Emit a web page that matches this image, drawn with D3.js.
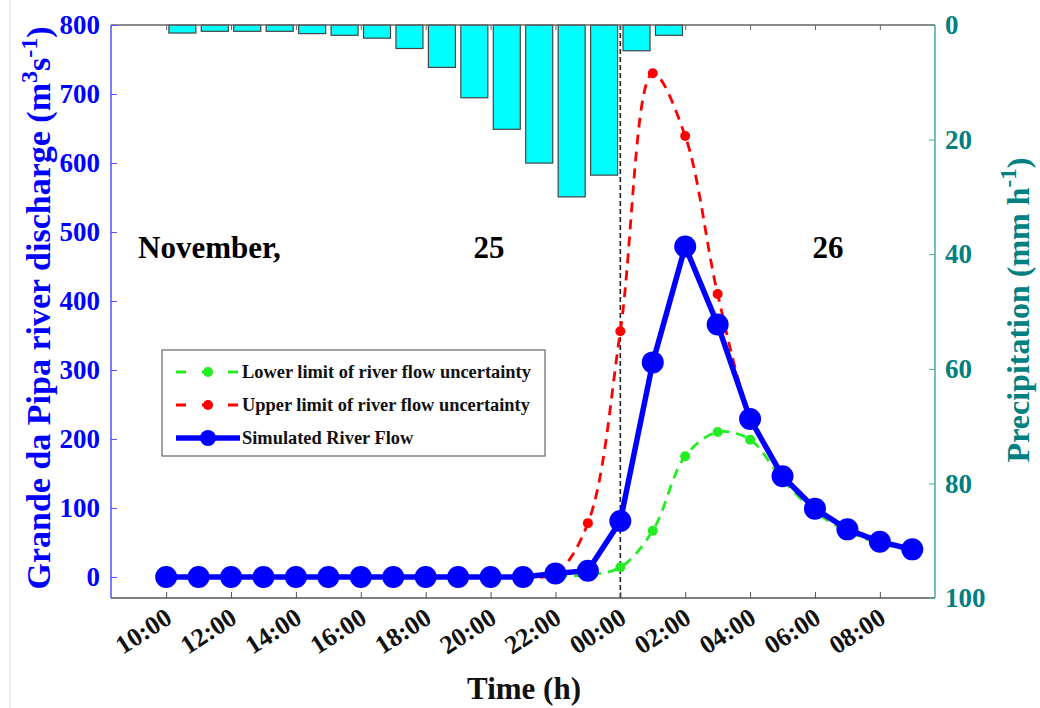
<!DOCTYPE html>
<html><head>
<meta charset="utf-8">
<script src="https://d3js.org/d3.v7.min.js"></script>
<style>
  body { margin: 0; background: #fff; }
  text { font-family: "Liberation Serif", "Times New Roman", serif; font-weight: bold; }
</style>
</head>
<body>
<svg id="chart" width="1040" height="708"></svg>
<script>

// hours since 10:00 on November 25 (0 = 10:00 ... 23 = 09:00 next day)
const hours = d3.range(0, 24);
const tickHours = [0, 2, 4, 6, 8, 10, 12, 14, 16, 18, 20, 22];
const tickLabels = ["10:00", "12:00", "14:00", "16:00", "18:00", "20:00",
                    "22:00", "00:00", "02:00", "04:00", "06:00", "08:00"];

// river flow (m3/s)
const simulated = [0, 0, 0, 0, 0, 0, 0, 0, 0, 0, 0, 0,
                   5, 9, 81, 311, 479, 366, 229, 146, 99, 69, 51, 40];
const upper     = [0, 0, 0, 0, 0, 0, 0, 0, 0, 0, 0, 0,
                   5, 78, 356, 730, 639, 410, 234, 150, 101, 71, 53, 41];
const lower     = [0, 0, 0, 0, 0, 0, 0, 0, 0, 0, 0, 0,
                   1, 3, 14, 67, 175, 210, 199, 141, 95, 66, 49, 38];

// hourly precipitation (mm/h), bar i covers hour i .. i+1
const rainHours = d3.range(0, 16);
const rain = [1.4, 1.1, 1.1, 1.1, 1.5, 1.8, 2.3, 4.1, 7.4, 12.7, 18.2, 24.1, 30.0, 26.2, 4.5, 1.8];

const leftTicks = [0, 100, 200, 300, 400, 500, 600, 700, 800];
const rightTicks = [0, 20, 40, 60, 80, 100];

const svg = d3.select("#chart");
const pLeft = 111, pRight = 935, pTop = 25, pBottom = 598;

const x = d3.scaleLinear().domain([-1.7, 23.7]).range([pLeft, pRight]);
const yQ = d3.scaleLinear().domain([-30.5, 800]).range([pBottom, pTop]);
const yP = d3.scaleLinear().domain([0, 100]).range([pTop, pBottom]);

// faint border of the original figure
svg.append("line").attr("x1", 10).attr("x2", 10).attr("y1", 0).attr("y2", 708)
   .attr("stroke", "#ddd").attr("stroke-width", 1);

// precipitation bars hanging from the top
const barW = 27;
svg.append("g").selectAll("rect").data(rainHours)
   .join("rect")
   .attr("x", d => x(d + 0.5) - barW / 2)
   .attr("y", yP(0))
   .attr("width", barW)
   .attr("height", d => yP(rain[d]) - yP(0))
   .attr("fill", "#00ffff")
   .attr("stroke", "#444")
   .attr("stroke-width", 1.2);

// midnight marker
svg.append("line")
   .attr("x1", x(14)).attr("x2", x(14))
   .attr("y1", pTop).attr("y2", pBottom)
   .attr("stroke", "#222").attr("stroke-width", 1.6)
   .attr("stroke-dasharray", "5,3");

// frame top
svg.append("line").attr("x1", pLeft).attr("x2", pRight).attr("y1", pTop).attr("y2", pTop)
   .attr("stroke", "#666").attr("stroke-width", 1.5);

// bottom axis
const xAxis = svg.append("g").attr("transform", `translate(0,${pBottom})`)
   .call(d3.axisBottom(x).tickValues(tickHours).tickSize(-6).tickFormat(""));
xAxis.select(".domain").attr("stroke", "#555").attr("stroke-width", 1.5)
     .attr("d", `M${pLeft},0H${pRight}`);
xAxis.selectAll(".tick line").attr("stroke", "#555");
xAxis.selectAll(".tick").append("text")
     .attr("transform", "translate(7,24) rotate(-33)")
     .attr("text-anchor", "end")
     .attr("fill", "#111")
     .attr("font-size", 26)
     .text((d, i) => tickLabels[i]);

// top ticks
const xTop = svg.append("g").attr("transform", `translate(0,${pTop})`)
   .call(d3.axisTop(x).tickValues(tickHours).tickSize(-5).tickFormat(""));
xTop.select(".domain").remove();
xTop.selectAll(".tick line").attr("stroke", "#666");

// left axis
const yAxisL = svg.append("g").attr("transform", `translate(${pLeft},0)`)
   .call(d3.axisLeft(yQ).tickValues(leftTicks).tickSize(-6).tickPadding(11));
yAxisL.select(".domain").attr("stroke", "#5050ff").attr("stroke-width", 1.5)
      .attr("d", `M0,${pTop}V${pBottom}`);
yAxisL.selectAll(".tick line").attr("stroke", "#5050ff");
yAxisL.selectAll(".tick text").attr("fill", "#0000ff").attr("font-size", 27)
      .attr("font-family", "Liberation Serif, serif").attr("font-weight", "bold");

// right axis
const yAxisR = svg.append("g").attr("transform", `translate(${pRight},0)`)
   .call(d3.axisRight(yP).tickValues(rightTicks).tickSize(-6).tickPadding(10));
yAxisR.select(".domain").attr("stroke", "#4aa8a8").attr("stroke-width", 1.5)
      .attr("d", `M0,${pTop}V${pBottom}`);
yAxisR.selectAll(".tick line").attr("stroke", "#4aa8a8");
yAxisR.selectAll(".tick text").attr("fill", "#008080").attr("font-size", 27)
      .attr("font-family", "Liberation Serif, serif").attr("font-weight", "bold");

// flow lines
const line = arr => d3.line().x(d => x(d)).y(d => yQ(arr[d]))(hours);
const curve = arr => d3.line().curve(d3.curveCatmullRom).x(d => x(d)).y(d => yQ(arr[d]))(hours);

svg.append("path").attr("d", curve(lower)).attr("fill", "none")
   .attr("stroke", "#22ee22").attr("stroke-width", 2.8).attr("stroke-dasharray", "10,7");
svg.append("g").selectAll("circle").data(hours.filter(h => h >= 12)).join("circle")
   .attr("cx", d => x(d)).attr("cy", d => yQ(lower[d])).attr("r", 5).attr("fill", "#22ee22");

svg.append("path").attr("d", curve(upper)).attr("fill", "none")
   .attr("stroke", "#ff0000").attr("stroke-width", 2.8).attr("stroke-dasharray", "10,7");
svg.append("g").selectAll("circle").data(hours.filter(h => h >= 12)).join("circle")
   .attr("cx", d => x(d)).attr("cy", d => yQ(upper[d])).attr("r", 5).attr("fill", "#ff0000");

svg.append("path").attr("d", line(simulated)).attr("fill", "none")
   .attr("stroke", "#0000ff").attr("stroke-width", 5.5);
svg.append("g").selectAll("circle").data(hours).join("circle")
   .attr("cx", d => x(d)).attr("cy", d => yQ(simulated[d])).attr("r", 11).attr("fill", "#0000ff");

// date annotations
const ann = [["November,", 138, "start"], ["25", 489, "middle"], ["26", 828, "middle"]];
svg.append("g").selectAll("text").data(ann).join("text")
   .attr("x", d => d[1]).attr("y", 258)
   .attr("text-anchor", d => d[2])
   .attr("font-size", 31).attr("fill", "#000")
   .text(d => d[0]);

// legend
const lg = svg.append("g").attr("transform", "translate(162,350)");
lg.append("rect").attr("width", 383).attr("height", 106)
  .attr("fill", "#fff").attr("stroke", "#666").attr("stroke-width", 1.2);
const legendItems = [
  ["Lower limit of river flow uncertainty", "#22ee22", "dash"],
  ["Upper limit of river flow uncertainty", "#ff0000", "dash"],
  ["Simulated River Flow", "#0000ff", "solid"]
];
legendItems.forEach((it, i) => {
  const yy = 22 + i * 33;
  if (it[2] === "dash") {
    lg.append("line").attr("x1", 14).attr("x2", 78).attr("y1", yy).attr("y2", yy)
      .attr("stroke", it[1]).attr("stroke-width", 2.8).attr("stroke-dasharray", "10,16");
    lg.append("circle").attr("cx", 46).attr("cy", yy).attr("r", 5).attr("fill", it[1]);
  } else {
    lg.append("line").attr("x1", 14).attr("x2", 78).attr("y1", yy).attr("y2", yy)
      .attr("stroke", it[1]).attr("stroke-width", 5.5);
    lg.append("circle").attr("cx", 46).attr("cy", yy).attr("r", 8).attr("fill", it[1]);
  }
  lg.append("text").attr("x", 80).attr("y", yy + 6)
    .attr("font-size", 18.4).attr("fill", "#111").text(it[0]);
});

// axis titles
const lt = svg.append("text")
   .attr("transform", "translate(50,308) rotate(-90)")
   .attr("text-anchor", "middle").attr("font-size", 34).attr("fill", "#0000ff");
lt.append("tspan").text("Grande da Pipa river discharge (m");
lt.append("tspan").attr("dy", -13).attr("font-size", 24).text("3");
lt.append("tspan").attr("dy", 13).text("s");
lt.append("tspan").attr("dy", -13).attr("font-size", 24).text("-1");
lt.append("tspan").attr("dy", 13).text(")");

const rt = svg.append("text")
   .attr("transform", "translate(1029,310) rotate(-90)")
   .attr("text-anchor", "middle").attr("font-size", 32).attr("fill", "#008080");
rt.append("tspan").text("Precipitation (mm h");
rt.append("tspan").attr("dy", -13).attr("font-size", 23).text("-1");
rt.append("tspan").attr("dy", 13).text(")");

svg.append("text").attr("x", 524).attr("y", 699)
   .attr("text-anchor", "middle").attr("font-size", 31).attr("fill", "#111")
   .text("Time (h)");

</script>
</body>
</html>
